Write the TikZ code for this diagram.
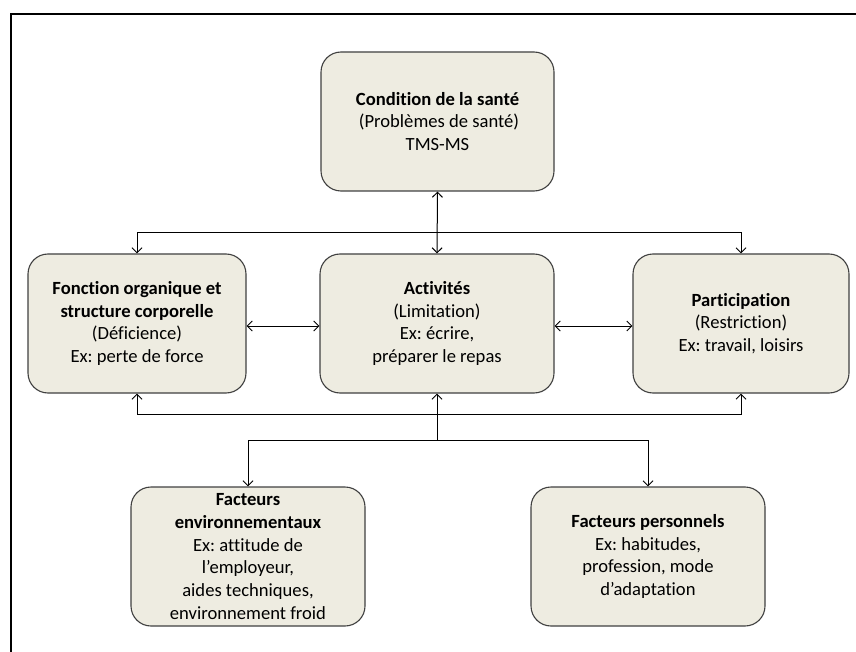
\documentclass[tikz,border=0pt]{standalone}
\usepackage{fontspec}
\setmainfont{Carlito}[Ligatures=NoCommon]
\usetikzlibrary{arrows.meta}
\definecolor{boxfill}{HTML}{EEECE1}
\definecolor{boxdraw}{HTML}{404040}
\frenchspacing
\begin{document}
\begin{tikzpicture}[x=1pt,y=-1pt,
  box/.style={draw=boxdraw, line width=1.1pt, fill=boxfill, rounded corners=20pt,
    minimum height=139pt, inner sep=0pt, align=center,
    font=\fontsize{18.6}{22.7}\selectfont\frenchspacing},
  conn/.style={line width=1pt, draw=black},
  arr/.style={conn, -{Straight Barb[length=5pt,width=10pt]}},
  darr/.style={conn, {Straight Barb[length=5pt,width=10pt]}-{Straight Barb[length=5pt,width=10pt]}}]
\useasboundingbox (0,0) rectangle (856,652);
\clip (0,0) rectangle (856,652);
\draw[line width=2.6pt] (11,700) -- (11,14) -- (900,14);

\node[box, minimum width=233pt] (top) at (437.5,121.5)
  {\textbf{Condition de la santé}\\\hspace*{3pt}(Problèmes de santé)\\TMS-MS};
\node[box, minimum width=218pt] (lft) at (137,323.5)
  {\textbf{Fonction organique et}\\\textbf{structure corporelle}\\(Déficience)\\Ex: perte de force};
\node[box, minimum width=234pt] (ctr) at (437,323.5)
  {\textbf{Activités}\\(Limitation)\\Ex: écrire,\\préparer le repas};
\node[box, minimum width=216pt] (rgt) at (741,323.5)
  {\textbf{Participation}\\(Restriction)\\Ex: travail, loisirs};
\node[box, minimum width=234pt] (bl) at (248,556.5)
  {\textbf{Facteurs}\\\textbf{environnementaux}\\Ex: attitude de\\l’employeur,\\aides techniques,\\environnement froid};
\node[box, minimum width=234pt] (br) at (648,556.5)
  {\textbf{Facteurs personnels}\\Ex: habitudes,\\profession, mode\\d’adaptation};

\coordinate (ytop) at (0,233);
\coordinate (ymid) at (0,326);
\coordinate (ybot) at (0,414);
\coordinate (ybr) at (0,440);

% top
\draw[darr] (top.south) -- (ctr.north);
\draw[arr] (lft.north |- ytop) -- (rgt.north |- ytop) -- (rgt.north);
\draw[arr] (lft.north |- ytop) -- (lft.north);

% middle
\draw[darr] (lft.east |- ymid) -- (ctr.west |- ymid);
\draw[darr] (ctr.east |- ymid) -- (rgt.west |- ymid);

% bottom
\draw[arr] (lft.south |- ybot) -- (rgt.south |- ybot) -- (rgt.south);
\draw[arr] (lft.south |- ybot) -- (lft.south);
\draw[arr] (ctr.south |- ybr) -- (ctr.south);
\draw[arr] (bl.north |- ybr) -- (br.north |- ybr) -- (br.north);
\draw[arr] (bl.north |- ybr) -- (bl.north);
\end{tikzpicture}
\end{document}
